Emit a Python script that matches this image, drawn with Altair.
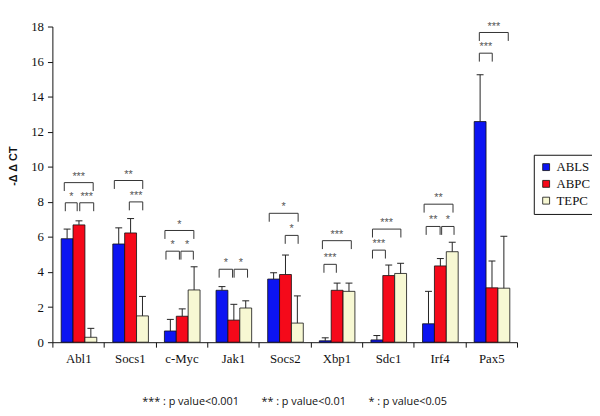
import altair as alt
import pandas as pd

genes = ["Abl1", "Socs1", "c-Myc", "Jak1", "Socs2", "Xbp1", "Sdc1", "Irf4", "Pax5"]
series = ["ABLS", "ABPC", "TEPC"]
colors = ["#0c14f2", "#f5091a", "#f7f8d3"]

ABLS = [5.9, 5.6, 0.64, 2.96, 3.6, 0.08, 0.13, 1.05, 12.58]
ABPC = [6.69, 6.23, 1.48, 1.26, 3.86, 2.96, 3.8, 4.35, 3.1]
TEPC = [0.28, 1.5, 2.98, 1.95, 1.09, 2.9, 3.92, 5.16, 3.08]
ABLS_err = [0.55, 0.92, 0.66, 0.21, 0.36, 0.17, 0.25, 1.85, 2.67]
ABPC_err = [0.23, 0.82, 0.42, 0.9, 1.11, 0.41, 0.6, 0.42, 1.53]
TEPC_err = [0.51, 1.11, 1.32, 0.41, 1.55, 0.47, 0.58, 0.54, 2.96]

# significance brackets: start, end (category units), level, label
br_start = [0.23, 0.25, 0.53, 1.20, 1.49, 2.18, 2.20, 2.49, 3.23, 3.52, 4.20, 4.51,
            5.23, 5.26, 6.20, 6.20, 7.20, 7.24, 7.54, 8.27, 8.27]
br_end = [0.79, 0.48, 0.80, 1.75, 1.75, 2.74, 2.46, 2.73, 3.49, 3.78, 4.76, 4.76,
          5.79, 5.50, 6.75, 6.45, 7.76, 7.51, 7.78, 8.83, 8.52]
br_level = [9.1, 7.95, 7.95, 9.22, 8.0, 6.37, 5.19, 5.19, 4.16, 4.16, 7.35, 6.09,
            5.79, 4.44, 6.45, 5.25, 7.87, 6.6, 6.6, 17.66, 16.48]
br_label = ["***", "*", "***", "**", "***", "*", "*", "*", "*", "*", "*", "*",
            "***", "***", "***", "***", "**", "**", "*", "***", "***"]

footnote = "*** : p value<0.001\u00a0\u00a0\u00a0\u00a0\u00a0\u00a0\u00a0\u00a0** : p value<0.01\u00a0\u00a0\u00a0\u00a0\u00a0\u00a0\u00a0\u00a0* : p value<0.05"

BAR_START = 0.17
BAR_W = 0.23
CAP = 0.067
DROP = 0.48

rows = []
vals = [ABLS, ABPC, TEPC]
errs = [ABLS_err, ABPC_err, TEPC_err]
for k, s in enumerate(series):
    for i, g in enumerate(genes):
        x0 = i + BAR_START + k * BAR_W
        c = x0 + BAR_W / 2
        rows.append(dict(gene=g, series=s, x0=x0, x1=x0 + BAR_W, c=c,
                         cl=c - CAP, cr=c + CAP,
                         value=vals[k][i], top=vals[k][i] + errs[k][i]))
bars = pd.DataFrame(rows)

brk = pd.DataFrame(dict(xs=br_start, xe=br_end, y=br_level, label=br_label))
brk["yb"] = brk["y"] - DROP
brk["xm"] = (brk["xs"] + brk["xe"]) / 2

label_arr = "[" + ",".join("'" + g + "'" for g in genes) + ",'']"

xscale = alt.Scale(domain=[0, len(genes)], nice=False, zero=False)
yscale = alt.Scale(domain=[0, 18], nice=False)

xaxis = alt.Axis(values=list(range(len(genes) + 1)), labelExpr=label_arr + "[datum.value]",
                 labelOffset=26.2, labelFlush=False, labelOverlap=False, title=None,
                 grid=False, tickSize=5, tickColor="#111", domainColor="#111",
                 labelFont="Liberation Serif", labelFontSize=13, labelColor="#111",
                 labelPadding=6)
yaxis = alt.Axis(values=[0, 2, 4, 6, 8, 10, 12, 14, 16, 18], title="-\u0394 \u0394 CT", grid=False,
                 labelOverlap=False, labelFlush=False,
                 tickSize=5, tickColor="#111", domainColor="#111",
                 labelFont="Liberation Serif", labelFontSize=13, labelColor="#111",
                 labelPadding=4, titleFont="Liberation Sans", titleFontSize=11,
                 titleFontWeight="bold", titleColor="#111", titleX=-39, titleY=141,
                 titleAlign="center", titleBaseline="middle")

base_bar = alt.Chart(bars)

bar_layer = base_bar.mark_bar(stroke="#111", strokeWidth=0.8).encode(
    x=alt.X("x0:Q", scale=xscale, axis=xaxis),
    x2="x1",
    y=alt.Y("value:Q", scale=yscale, axis=yaxis),
    y2=alt.datum(0),
    color=alt.Color("series:N", scale=alt.Scale(domain=series, range=colors),
                    legend=alt.Legend(title=None, orient="none", legendX=488, legendY=130,
                                      strokeColor="#111", fillColor="white", padding=6,
                                      symbolType="square", symbolSize=49,
                                      symbolStrokeColor="#111", symbolStrokeWidth=0.8,
                                      labelFont="Liberation Serif", labelFontSize=13,
                                      labelColor="#111", rowPadding=3, labelOffset=4)),
)

X = lambda f: alt.X(f, type="quantitative", scale=xscale, axis=None)
Y = lambda f: alt.Y(f, type="quantitative", scale=yscale, axis=None)

err_line = base_bar.mark_rule(color="#222", strokeWidth=1).encode(
    x=X("c"), y=Y("value"), y2="top:Q")
err_cap = base_bar.mark_rule(color="#222", strokeWidth=1).encode(
    x=X("cl"), x2="cr:Q", y=Y("top"))

base_br = alt.Chart(brk)
br_h = base_br.mark_rule(color="#333", strokeWidth=1).encode(x=X("xs"), x2="xe:Q", y=Y("y"))
br_l = base_br.mark_rule(color="#333", strokeWidth=1).encode(x=X("xs"), y=Y("y"), y2="yb:Q")
br_r = base_br.mark_rule(color="#333", strokeWidth=1).encode(x=X("xe"), y=Y("y"), y2="yb:Q")
br_t = base_br.mark_text(font="Liberation Sans", fontSize=11, color="#555",
                         baseline="bottom", dy=-1).encode(x=X("xm"), y=Y("y"), text="label:N")

chart = alt.layer(bar_layer, err_line, err_cap, br_h, br_l, br_r, br_t).resolve_axis(
    x="independent", y="independent"
).properties(
    width=471, height=320, background="white",
    autosize=alt.AutoSizeParams(type="none"),
    padding={"left": 45, "top": 16, "right": 76, "bottom": 70},
    title=alt.TitleParams(footnote, orient="bottom", anchor="middle", font="Open Sans",
                          fontSize=11, fontWeight="normal", color="#111", offset=31,
                          baseline="top", dx=10),
).configure_view(stroke=None)

chart.save("out.html", embed_options={"renderer": "svg", "actions": False})
